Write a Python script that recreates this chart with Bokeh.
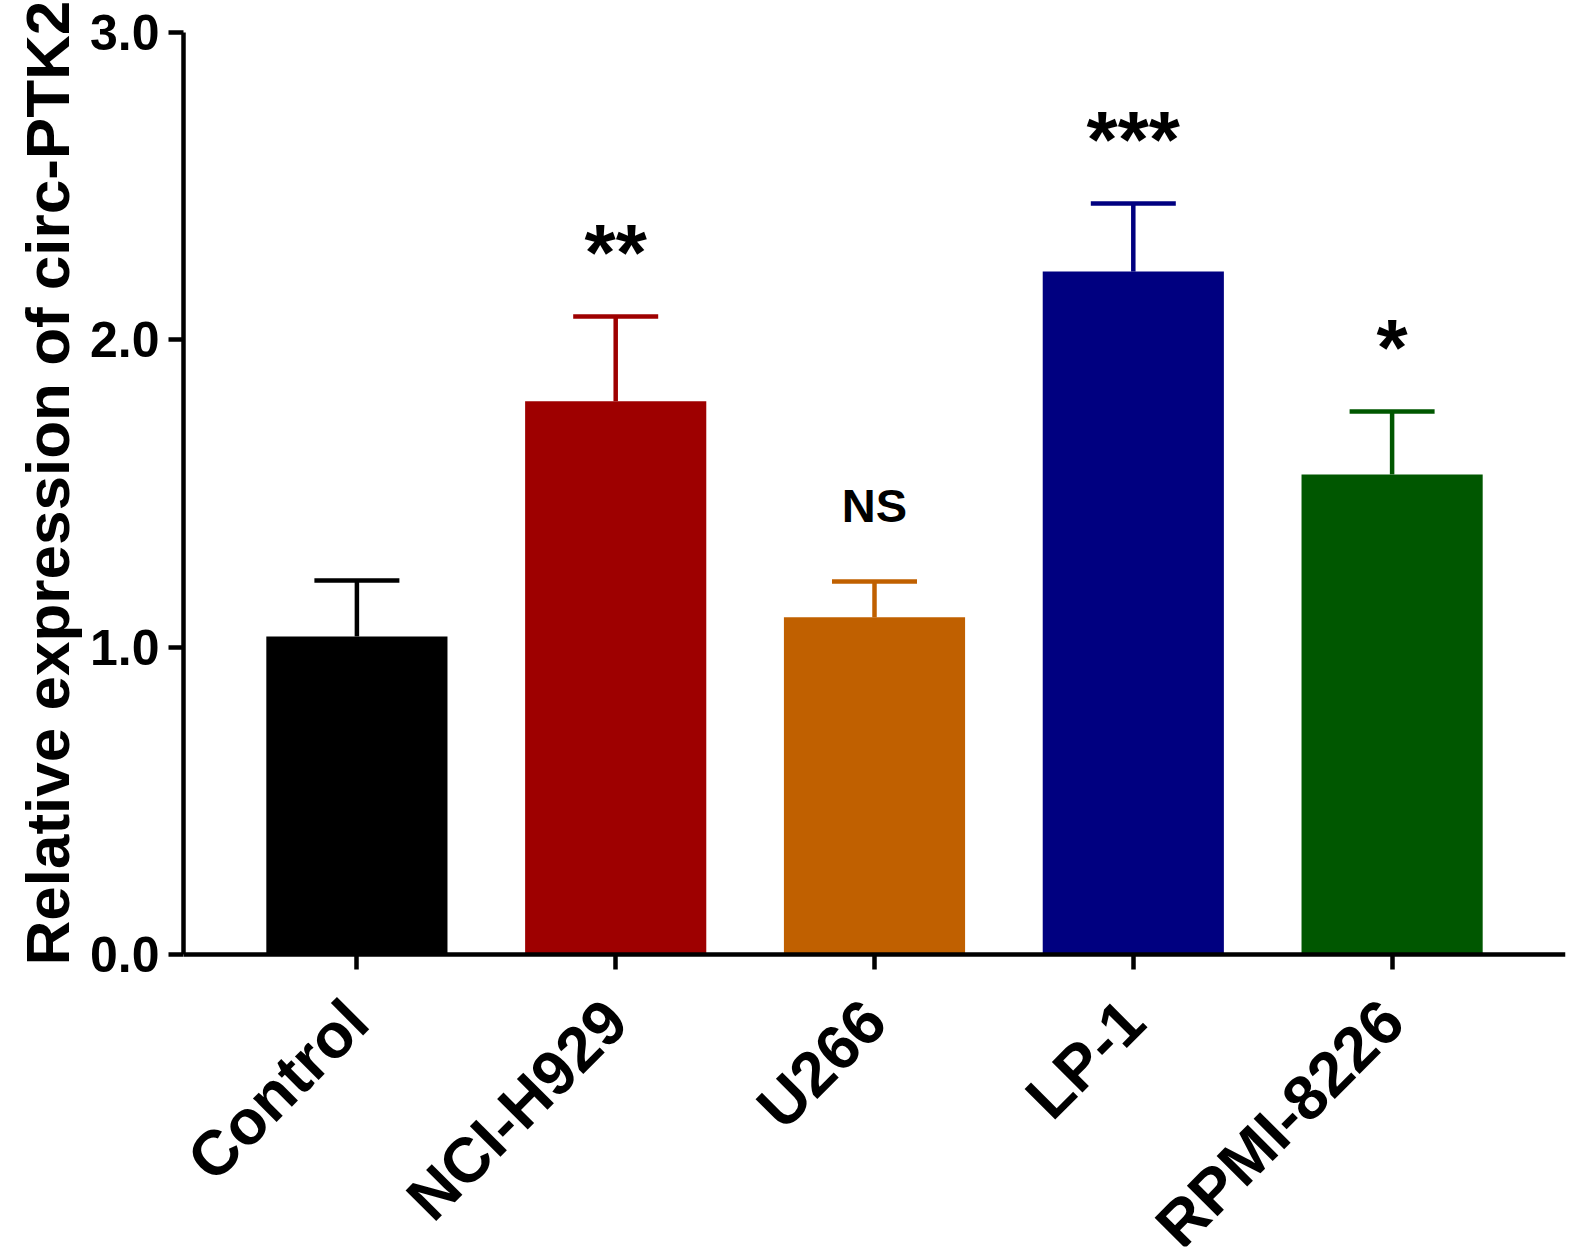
import math
from bokeh.plotting import figure
from bokeh.models import ColumnDataSource, FactorRange, Range1d, FixedTicker, Title
from bokeh.core.properties import value
from bokeh.embed import file_html
from bokeh.resources import INLINE

categories = ["Control", "NCI-H929", "U266", "LP-1", "RPMI-8226"]
means = [1.035, 1.80, 1.097, 2.222, 1.562]
upper = [1.217, 2.076, 1.214, 2.444, 1.767]
colors = ["#000000", "#9e0000", "#c06000", "#000080", "#005700"]
sig_labels = ["", "**", "NS", "***", "*"]
y_ticks = [0, 1, 2, 3]
y_tick_labels = ["0.0", "1.0", "2.0", "3.0"]
y_label = "Relative expression of circ-PTK2"

FONT = "Liberation Sans"
PAD = 0.17
Y_MAX = 3.0
# the frame continues below zero so the rotated category labels have room
# (922 px per 3 units; 292 px below the zero line)
Y_MIN = -Y_MAX * 292 / 922

src = ColumnDataSource(dict(cat=categories, val=means, up=upper, color=colors))

p = figure(width=1567, height=1250,
           x_range=FactorRange(*categories, range_padding=PAD, range_padding_units="absolute"),
           y_range=Range1d(Y_MIN, Y_MAX),
           output_backend="svg", toolbar_location=None,
           min_border_left=183, min_border_top=32, min_border_bottom=4, min_border_right=2)

p.vbar(x="cat", top="val", width=0.7, fill_color="color", line_color=None, source=src)
p.segment(x0="cat", y0="val", x1="cat", y1="up", line_color="color", line_width=4.5, source=src)
p.scatter(x="cat", y="up", marker="dash", size=85, line_color="color", line_width=4.5, source=src)

star_idx = [i for i, s in enumerate(sig_labels) if s and s != "NS"]
ns_idx = [i for i, s in enumerate(sig_labels) if s == "NS"]
star_src = ColumnDataSource(dict(cat=[categories[i] for i in star_idx],
                                 up=[upper[i] for i in star_idx],
                                 txt=[sig_labels[i] for i in star_idx]))
ns_src = ColumnDataSource(dict(cat=[categories[i] for i in ns_idx],
                               up=[upper[i] for i in ns_idx],
                               txt=[sig_labels[i] for i in ns_idx]))
p.text(x="cat", y="up", text="txt", source=star_src, y_offset=-64,
       text_align="center", text_baseline="alphabetic",
       text_font=value(FONT), text_font_style="bold", text_font_size="80px", text_color="black")
p.text(x="cat", y="up", text="txt", source=ns_src, y_offset=-76,
       text_align="center", text_baseline="alphabetic",
       text_font=value(FONT), text_font_style="bold", text_font_size="47px", text_color="black")

p.xgrid.visible = False
p.ygrid.visible = False
p.outline_line_color = None
p.background_fill_color = "white"
p.border_fill_color = "white"

for ax in (p.xaxis[0], p.yaxis[0]):
    ax.axis_line_width = 4.5
    ax.axis_line_color = "black"
    ax.major_tick_line_width = 4.5
    ax.major_tick_line_color = "black"
    ax.major_tick_out = 15
    ax.major_tick_in = 0
    ax.minor_tick_line_color = None
    ax.major_label_text_font = FONT
    ax.major_label_text_font_style = "bold"
    ax.major_label_text_color = "black"

p.yaxis[0].ticker = FixedTicker(ticks=y_ticks)
p.yaxis[0].bounds = (0, Y_MAX)
p.yaxis[0].major_label_overrides = {t: l for t, l in zip(y_ticks, y_tick_labels)}
p.yaxis[0].major_label_text_font_size = "50px"
p.yaxis[0].major_label_standoff = 9

# y axis title, set beside the 0..3 part of the axis
p.add_layout(Title(text=y_label, align="left", offset=281, standoff=10,
                   text_font=FONT, text_font_style="bold", text_font_size="62px",
                   text_color="black"), "left")

p.xaxis[0].fixed_location = 0
p.xaxis[0].major_label_orientation = math.pi / 4
p.xaxis[0].major_label_text_font_size = "63px"
p.xaxis[0].major_label_standoff = 41

open("out.html", "w").write(file_html(p, INLINE))
